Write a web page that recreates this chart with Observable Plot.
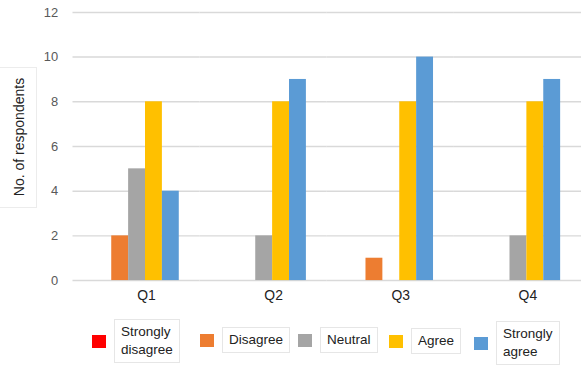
<!DOCTYPE html>
<html>
<head>
<meta charset="utf-8">
<script src="https://cdn.jsdelivr.net/npm/d3@7"></script>
<script src="https://cdn.jsdelivr.net/npm/@observablehq/plot@0.6"></script>
<style>
  html, body { margin: 0; padding: 0; background: #fff; overflow: hidden; }
  body { font-family: "Liberation Sans", Arial, sans-serif; width: 581px; height: 365px; position: relative; }
  #chart { position: absolute; left: 0; top: 0; }
  .ybox { position: absolute; left: 0; top: 67px; width: 37px; height: 141px; border: 1px solid #ececec; border-left: none; box-sizing: border-box; }
  .ylabel { position: absolute; left: 19px; top: 137px; transform: translate(-50%, -50%) rotate(-90deg); white-space: nowrap; font-size: 14px; color: #222; }
  #legend { position: absolute; left: 0; top: 315px; width: 581px; height: 50px; }
  .item { position: absolute; display: flex; align-items: center; font-size: 13.5px; color: #222; }
  .sw { width: 14px; height: 13px; margin-right: 8px; flex: none; }
  .lbl { border: 1px solid #e6e6e6; padding: 3px 6px; line-height: 18px; background: #fff; }
</style>
</head>
<body>
<div class="ybox"></div>
<div class="ylabel" id="ylabel"></div>
<div id="chart"></div>
<div id="legend"></div>
<script>
const questions = ["Q1", "Q2", "Q3", "Q4"];
const responses = ["Strongly disagree", "Disagree", "Neutral", "Agree", "Strongly agree"];
const colors = ["#ff0000", "#ed7d31", "#a5a5a5", "#ffc000", "#5b9bd5"];
const stronglyDisagree = [0, 0, 0, 0];
const disagree = [2, 0, 1, 0];
const neutral = [5, 2, 0, 2];
const agree = [8, 8, 8, 8];
const stronglyAgree = [4, 9, 10, 9];
const yTicks = [0, 2, 4, 6, 8, 10, 12];
const yLabel = "No. of respondents";

const series = [stronglyDisagree, disagree, neutral, agree, stronglyAgree];
const rows = [];
questions.forEach((q, i) => {
  responses.forEach((r, j) => rows.push({q, r, v: series[j][i]}));
});

const chart = Plot.plot({
  width: 585,
  height: 315,
  marginLeft: 73,
  marginRight: 0,
  marginTop: 12,
  marginBottom: 33,
  style: {fontFamily: "Liberation Sans, Arial, sans-serif", fontSize: "13px", color: "#595959", background: "transparent", overflow: "visible"},
  fx: {domain: questions, padding: 0, axis: null},
  x: {domain: responses, axis: null, paddingInner: 0, paddingOuter: 1.07},
  y: {domain: [0, 12], ticks: yTicks, tickSize: 0, tickPadding: 15, label: null},
  color: {domain: responses, range: colors},
  marks: [
    Plot.ruleY(yTicks, {stroke: "#d9d9d9", strokeWidth: 1.5}),
    Plot.barY(rows, {fx: "q", x: "r", y: "v", fill: "r"}),
    Plot.text(questions, {fx: d => d, text: d => d, frameAnchor: "bottom", dy: 20, dx: 10, fontSize: 14, fill: "#222"})
  ]
});
document.getElementById("chart").appendChild(chart);
document.getElementById("ylabel").textContent = yLabel;

const legendLeft = [92, 200, 298, 389, 474];
const legendTop = [14, 16, 16, 17, 16];
const legendText = ["Strongly<br>disagree", "Disagree", "Neutral", "Agree", "Strongly<br>agree"];
const legend = document.getElementById("legend");
responses.forEach((r, i) => {
  const it = document.createElement("div");
  it.className = "item";
  it.style.left = legendLeft[i] + "px";
  it.style.top = (legendTop[i] - (legendText[i].includes("<br>") ? 10 : 4)) + "px";
  it.innerHTML = `<span class="sw" style="background:${colors[i]}"></span><span class="lbl">${legendText[i]}</span>`;
  legend.appendChild(it);
});
</script>
</body>
</html>
